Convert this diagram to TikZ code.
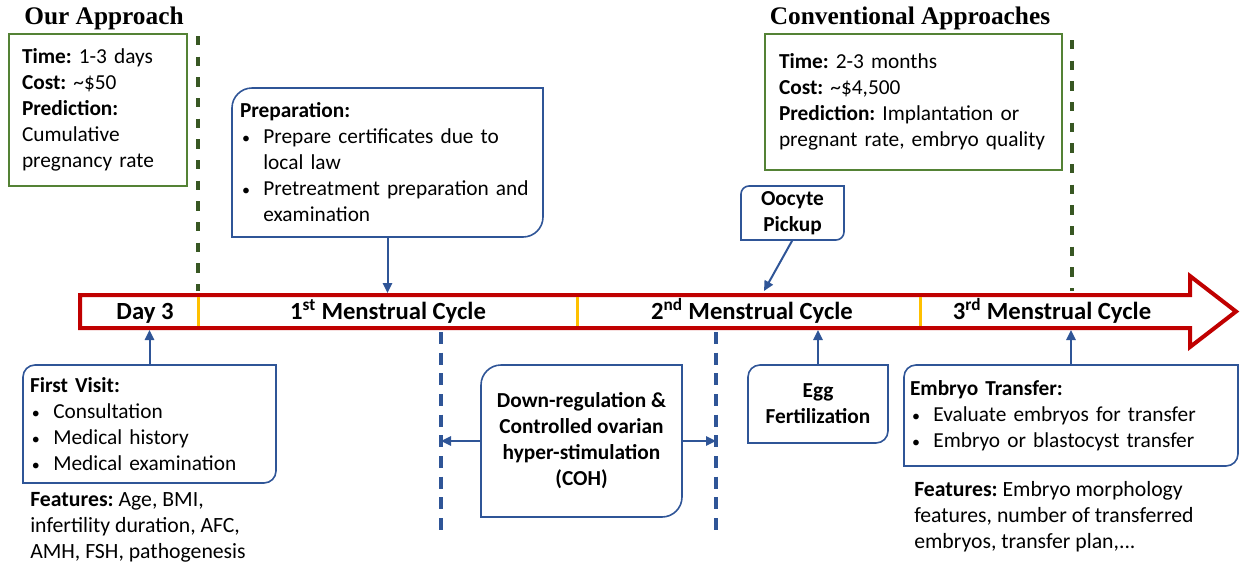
\documentclass[tikz,border=0pt]{standalone}
\usepackage{fontspec}
\setmainfont{Carlito}
\newfontfamily\headfont{Liberation Serif}
\usetikzlibrary{arrows.meta}
\frenchspacing

\definecolor{barred}{HTML}{C00000}
\definecolor{sepyellow}{HTML}{FFC000}
\definecolor{boxgreen}{HTML}{548235}
\definecolor{dashgreen}{HTML}{385723}
\definecolor{cardblue}{HTML}{2F5597}

% bullet line and its continuation
\newcommand{\itm}[1]{\mbox{\makebox[17.5pt][l]{\hspace{1.5pt}{\fontsize{12}{12}\selectfont\textbullet}}#1}}
\newcommand{\cnt}[1]{\mbox{\hspace*{17.5pt}#1}}
% rounded top-left and bottom-right corners
\newcommand{\cardframe}[2][9pt]{%
  \draw[cardline] (#2.south west) -- ([yshift=-#1]#2.north west)
    arc[start angle=180,end angle=90,radius=#1] -- (#2.north east)
    -- ([yshift=#1]#2.south east) arc[start angle=0,end angle=-90,radius=#1] -- cycle;}

\tikzset{
  headtitle/.style={anchor=base,font={\headfont\fontsize{19}{23}\selectfont\bfseries}},
  greenbox/.style={draw=boxgreen,line width=1.8pt,anchor=north west,align=left,outer sep=0pt},
  card/.style={anchor=north west,align=left,outer sep=0pt},
  cardline/.style={draw=cardblue,line width=1.2pt},
  boldcard/.style={card,align=center,font=\fontsize{16}{19.5}\selectfont\bfseries},
  barline/.style={draw=barred,fill=white,line width=3pt,line join=miter},
  sepline/.style={draw=sepyellow,line width=2.25pt},
  barlabel/.style={anchor=base,font=\fontsize{18.5}{22}\selectfont\bfseries},
  link/.style={draw=cardblue,line width=1.5pt,->},
  greendash/.style={draw=dashgreen,line width=2.5pt,dash pattern=on 7pt off 8.5pt},
  bluedash/.style={draw=cardblue,line width=2.4pt,dash pattern=on 9pt off 6.5pt},
  feature/.style={anchor=west,align=left,inner sep=0pt,font=\fontsize{16.3}{19.5}\selectfont}
}

\begin{document}
\begin{tikzpicture}[x=0.75pt,y=0.75pt,font=\fontsize{16}{19.5}\selectfont,
    >={Triangle[length=7.5pt,width=7pt]}]
  \useasboundingbox (0,0) rectangle (1242,-568);

  % titles and cost boxes
  \node[headtitle] (ourT) at (104,-24) {Our Approach};
  \node[headtitle] (convT) at (910,-24) {Conventional Approaches};
  \node[greenbox,minimum width=133.5pt,minimum height=114pt,text width=114pt,inner xsep=9.75pt]
    (ourB) at (9,-34) {\textbf{Time:} 1-3 days\\ \textbf{Cost:} \textasciitilde\$50\\
    \textbf{Prediction:}\\ Cumulative\\ pregnancy rate};
  \node[greenbox,minimum width=222.75pt,minimum height=102pt,text width=201.75pt,inner xsep=10.5pt]
    (convB) at (765,-34) {\textbf{Time:} 2-3 months\\ \textbf{Cost:} \textasciitilde\$4,500\\
    \mbox{\textbf{Prediction:} Implantation or}\\ \mbox{pregnant rate, embryo quality}};
  \draw[greendash] (198,-36) -- (198,-291);
  \draw[greendash] (1072,-40) -- (1072,-291);

  % the time line
  \draw[barline] (80,-295) -- (1190,-295) -- (1190,-276) -- (1236,-311.5)
    -- (1190,-347) -- (1190,-328) -- (80,-328) -- cycle;
  \coordinate (barTop) at (0,-293);
  \coordinate (barBot) at (0,-330);
  \foreach \x in {198,577,920} {
    \draw[sepline] (\x,-297) -- (\x,-326);
  }
  \node[barlabel] (day3) at (145,-319) {Day 3};
  \node[barlabel] (cyc1) at (388,-319) {1\textsuperscript{st} Menstrual Cycle};
  \node[barlabel] (cyc2) at (752,-319) {2\textsuperscript{nd} Menstrual Cycle};
  \node[barlabel] (cyc3) at (1052,-319) {3\textsuperscript{rd} Menstrual Cycle};

  % above the line
  \node[card,minimum width=233.25pt,minimum height=111.75pt,text width=221.25pt,inner xsep=6pt]
    (prep) at (232,-88) {\textbf{Preparation:}\\ \itm{Prepare certificates due to}\\
    \cnt{local law}\\ \itm{Pretreatment preparation and}\\ \cnt{examination}};
  \cardframe[15pt]{prep}
  \node[boldcard,minimum width=77.25pt,minimum height=40.5pt] (oocyte) at (741,-186) {Oocyte\\ Pickup};
  \cardframe[6pt]{oocyte}
  \coordinate (pick) at (764,-291);
  \draw[link] (prep.south) -- (prep.south |- barTop);
  \draw[link] (oocyte.south) -- (pick);

  % below the line
  \node[card,minimum width=189.75pt,minimum height=88.5pt,text width=179.25pt,inner xsep=5.25pt]
    (visit) at (23,-365) {\textbf{First Visit:}\\ \itm{Consultation}\\ \itm{Medical history}\\
    \itm{Medical examination}};
  \cardframe{visit}
  \node[feature] (featL) at (30,-527) {\textbf{Features:} Age, BMI,\\ infertility duration, AFC,\\
    AMH, FSH, pathogenesis};
  \coordinate (dashA) at (441,-332);
  \coordinate (dashB) at (716,-332);
  \draw[bluedash] (dashA) -- (441,-536);
  \draw[bluedash] (dashB) -- (716,-536);
  \node[boldcard,minimum width=150.75pt,minimum height=114pt] (coh) at (481,-365)
    {Down-regulation \&\\ Controlled ovarian\\ hyper-stimulation\\ (COH)};
  \cardframe[15pt]{coh}
  \node[boldcard,minimum width=105pt,minimum height=58.5pt] (egg) at (748,-365) {Egg\\ Fertilization};
  \cardframe{egg}
  \node[card,minimum width=250.5pt,minimum height=75.75pt,text width=241.5pt,inner xsep=4.5pt]
    (embryo) at (904,-365) {\textbf{Embryo Transfer:}\\ \itm{Evaluate embryos for transfer}\\
    \itm{Embryo or blastocyst transfer}};
  \cardframe{embryo}
  \node[feature] (featR) at (914,-517) {\textbf{Features:} Embryo morphology\\
    features, number of transferred\\ embryos, transfer plan,...};
  \draw[link] (visit.north) -- (visit.north |- barBot);
  \draw[link] (coh.west) -- (coh.west -| dashA);
  \draw[link] (coh.east) -- (coh.east -| dashB);
  \draw[link] (egg.north) -- (egg.north |- barBot);
  \draw[link] (embryo.north) -- (embryo.north |- barBot);
\end{tikzpicture}
\end{document}
